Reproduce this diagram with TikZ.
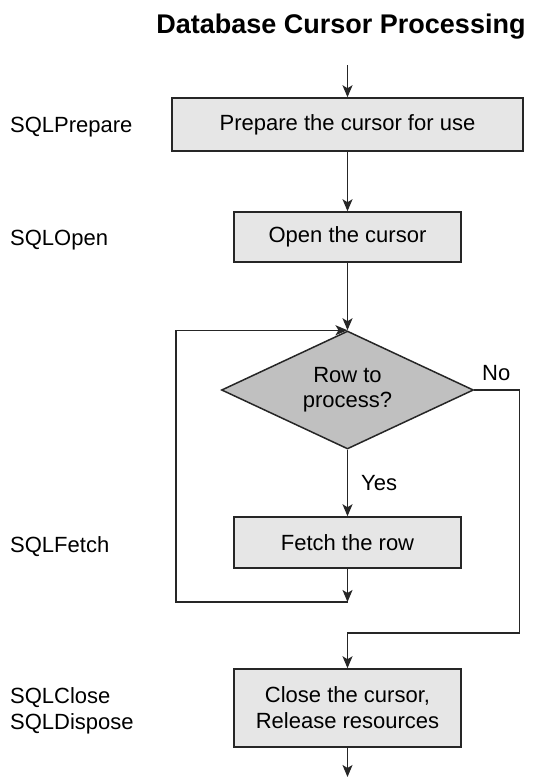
\documentclass[tikz,border=0pt]{standalone}
\usepackage{fontspec}
\setmainfont{Liberation Sans}
\usetikzlibrary{arrows.meta,shapes.geometric}
\definecolor{linec}{HTML}{262626}
\definecolor{boxfill}{HTML}{E6E6E6}
\definecolor{diafill}{HTML}{C0C0C0}
\tikzset{
  every node/.style={font=\fontsize{22}{26}\selectfont, text=black},
  stepbox/.style={draw=linec, line width=1.5pt, fill=boxfill, inner sep=0pt, align=center},
  decision/.style={draw=linec, line width=1.5pt, fill=diafill, diamond, aspect=2.14,
    minimum width=252pt, minimum height=118pt, inner sep=0pt, align=center},
  conn/.style={draw=linec, line width=1.5pt},
  arr/.style={conn, -{Stealth[length=12pt,width=10pt,inset=3pt]}},
  sidelabel/.style={anchor=base west, inner sep=0pt},
}
\begin{document}
\begin{tikzpicture}[x=1pt, y=-1pt]
\useasboundingbox (0,0) rectangle (536,777);

\node[anchor=base, inner sep=0pt, font=\bfseries\fontsize{27}{31}\selectfont] (title) at (341,33) {Database Cursor Processing};

\node[stepbox, minimum width=351pt, minimum height=53pt] (prep) at (347.5,124.5) {Prepare the cursor for use};
\node[stepbox, minimum width=227pt, minimum height=50pt] (open) at (347.5,237) {Open the cursor};
\node[decision] (dia) at (347.5,390) {Row to\\[-1pt]process?};
\node[stepbox, minimum width=227pt, minimum height=51pt] (fetch) at (347.5,542.5) {Fetch the row};
\node[stepbox, minimum width=227pt, minimum height=78pt] (close) at (347.5,708) {Close the cursor,\\Release resources};

\coordinate (start) at (347.5,65);
\coordinate (finish) at (347.5,777);
\coordinate (loopend) at (347.5,602);
\coordinate (loopleft) at (176,602);
\coordinate (nocorner) at (519.5,633);

\draw[arr] (start) -- (prep.north);
\draw[arr] (prep.south) -- (open.north);
\draw[arr] (open.south) -- (dia.north);
\draw[arr] (dia.south) -- (fetch.north);
\draw[arr] (fetch.south) -- (loopend);
\draw[arr] (loopend) -- (loopleft) |- (dia.north);
\draw[arr] (dia.east) -| (nocorner) -| (close.north);
\draw[arr] (close.south) -- (finish);

\node[sidelabel] (yes) at (361,490) {Yes};
\node[sidelabel] (no) at (482,380) {No};

\node[sidelabel] (lprep) at (10,132) {SQLPrepare};
\node[sidelabel] (lopen) at (10,245) {SQLOpen};
\node[sidelabel] (lfetch) at (10,552) {SQLFetch};
\node[sidelabel] (lclose) at (10,703) {SQLClose};
\node[sidelabel] (ldisp) at (10,729) {SQLDispose};
\end{tikzpicture}
\end{document}
